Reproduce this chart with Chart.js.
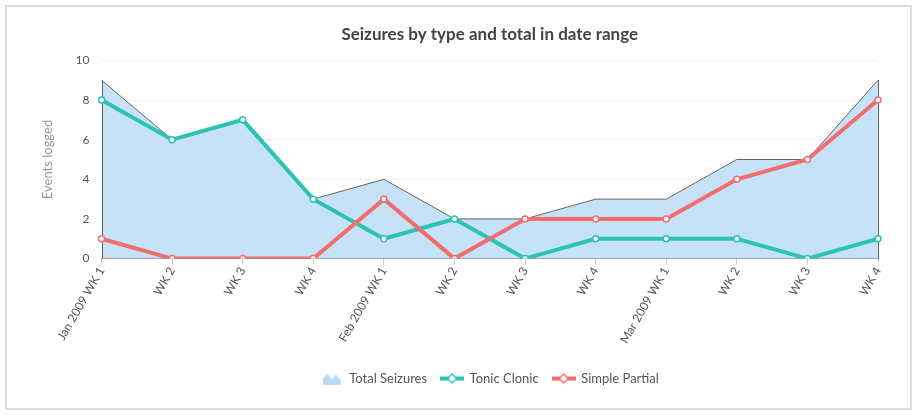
<!DOCTYPE html>
<html>
<head>
<meta charset="utf-8">
<script src="https://cdn.jsdelivr.net/npm/chart.js@4/dist/chart.umd.min.js"></script>
<style>
  html, body { margin: 0; padding: 0; background: #fff; }
  #box {
    position: absolute; left: 5px; top: 5px;
    width: 903px; height: 401px;
    border: 2px solid #dddddd;
  }
  #wrap { position: absolute; left: 0; top: 0; width: 903px; height: 401px; }
</style>
</head>
<body>
<div id="box"><div id="wrap"><canvas id="chart"></canvas></div></div>
<script>
// ── Data ────────────────────────────────────────────────────────────────
const weeks = [
  'Jan 2009 WK 1', 'WK 2', 'WK 3', 'WK 4',
  'Feb 2009 WK 1', 'WK 2', 'WK 3', 'WK 4',
  'Mar 2009 WK 1', 'WK 2', 'WK 3', 'WK 4'
];
const totalSeizures = [9, 6, 7, 3, 4, 2, 2, 3, 3, 5, 5, 9];
const tonicClonic   = [8, 6, 7, 3, 1, 2, 0, 1, 1, 1, 0, 1];
const simplePartial = [1, 0, 0, 0, 3, 0, 2, 2, 2, 4, 5, 8];

const AREA_FILL = '#c6e2f7';
const TEAL      = '#2cc3b2';
const RED       = '#f26d6d';
const FONT      = 'Lato, "Open Sans", sans-serif';

// ── Legend icons ────────────────────────────────────────────────────────
function areaIcon() {
  const c = document.createElement('canvas');
  c.width = 18; c.height = 12;
  const g = c.getContext('2d');
  g.fillStyle = '#b6dbf6';
  g.beginPath();
  g.moveTo(0, 12); g.lineTo(0, 6); g.lineTo(5, 1); g.lineTo(9, 7);
  g.lineTo(13, 2); g.lineTo(18, 8); g.lineTo(18, 12);
  g.closePath(); g.fill();
  return c;
}
function lineIcon(color) {
  const c = document.createElement('canvas');
  c.width = 24; c.height = 12;
  const g = c.getContext('2d');
  g.strokeStyle = color; g.lineWidth = 4;
  g.beginPath(); g.moveTo(0, 6); g.lineTo(24, 6); g.stroke();
  g.fillStyle = '#fff'; g.lineWidth = 1.5;
  g.beginPath();
  g.moveTo(12, 1.5); g.lineTo(16.5, 6); g.lineTo(12, 10.5); g.lineTo(7.5, 6);
  g.closePath(); g.fill(); g.stroke();
  return c;
}
const legendIcons = [areaIcon(), lineIcon(TEAL), lineIcon(RED)];

// vertical edges of the area series, like the reference
const areaEdges = {
  id: 'areaEdges',
  afterDatasetDraw(chart, args) {
    if (args.index !== 0) return;
    const pts = args.meta.data;
    const base = chart.scales.y.getPixelForValue(0);
    const ctx = chart.ctx;
    ctx.save();
    ctx.strokeStyle = '#666';
    ctx.lineWidth = 1;
    [pts[0], pts[pts.length - 1]].forEach(p => {
      ctx.beginPath();
      ctx.moveTo(Math.round(p.x) + 0.5, p.y);
      ctx.lineTo(Math.round(p.x) + 0.5, base);
      ctx.stroke();
    });
    ctx.restore();
  }
};

new Chart(document.getElementById('chart'), {
  type: 'line',
  data: {
    labels: weeks,
    datasets: [
      {
        label: 'Total Seizures',
        data: totalSeizures,
        fill: 'origin',
        backgroundColor: AREA_FILL,
        borderColor: '#666',
        borderWidth: 1,
        pointRadius: 0,
        pointHoverRadius: 0,
        tension: 0,
        order: 3,
      },
      {
        label: 'Tonic Clonic',
        data: tonicClonic,
        fill: false,
        borderColor: TEAL,
        backgroundColor: TEAL,
        borderWidth: 4,
        pointRadius: 3,
        pointBackgroundColor: '#fff',
        pointBorderColor: TEAL,
        pointBorderWidth: 1.5,
        tension: 0,
        order: 2,
      },
      {
        label: 'Simple Partial',
        data: simplePartial,
        fill: false,
        borderColor: RED,
        backgroundColor: RED,
        borderWidth: 4,
        pointRadius: 3,
        pointBackgroundColor: '#fff',
        pointBorderColor: RED,
        pointBorderWidth: 1.5,
        tension: 0,
        order: 1,
      },
    ],
  },
  options: {
    responsive: true,
    maintainAspectRatio: false,
    animation: false,
    layout: { padding: { left: 29, right: 32, top: 9, bottom: 13 } },
    plugins: {
      title: {
        display: true,
        fullSize: false,
        text: 'Seizures by type and total in date range',
        color: '#444',
        font: { family: FONT, size: 17, weight: 'bold' },
        padding: { top: 8, bottom: 16 },
      },
      legend: {
        position: 'bottom',
        fullSize: false,
        labels: {
          usePointStyle: true,
          pointStyleWidth: 22,
          color: '#555',
          padding: 14,
          font: { family: FONT, size: 13 },
          sort: (a, b) => a.datasetIndex - b.datasetIndex,
          generateLabels(chart) {
            const items = Chart.defaults.plugins.legend.labels.generateLabels(chart);
            items.forEach(it => { it.pointStyle = legendIcons[it.datasetIndex]; });
            return items;
          },
        },
      },
      tooltip: { enabled: false },
    },
    scales: {
      x: {
        offset: false,
        grid: { display: true, drawOnChartArea: false, color: '#ccc', tickLength: 6 },
        border: { display: true, color: '#999' },
        ticks: {
          color: '#555',
          font: { family: FONT, size: 12 },
          minRotation: 60,
          maxRotation: 60,
          autoSkip: false,
          padding: 0,
        },
        afterFit(scale) { scale.height += 12; },
      },
      y: {
        min: 0,
        max: 10,
        ticks: { stepSize: 2, color: '#555', font: { family: FONT, size: 12 }, padding: 12 },
        grid: { color: '#efefef', drawTicks: false },
        border: { display: false },
        title: {
          display: true,
          text: 'Events logged',
          color: '#999',
          font: { family: FONT, size: 13 },
          padding: { bottom: 8 },
        },
      },
    },
  },
  plugins: [areaEdges],
});
</script>
</body>
</html>
